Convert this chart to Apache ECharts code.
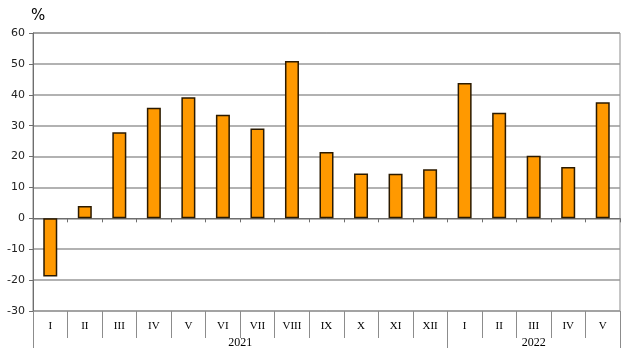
<!DOCTYPE html>
<html>
<head>
<meta charset="utf-8">
<script src="https://cdn.jsdelivr.net/npm/echarts@6/dist/echarts.min.js"></script>
<style>
  html, body { margin: 0; padding: 0; background: #fff; }
  #chart { width: 629px; height: 353px; }
</style>
</head>
<body>
<div id="chart"></div>
<script>
// 月份 (罗马数字) 与年份
const months = ['I', 'II', 'III', 'IV', 'V', 'VI', 'VII', 'VIII', 'IX', 'X', 'XI', 'XII', 'I', 'II', 'III', 'IV', 'V']
const values = [-18.8, 4.0, 27.9, 35.8, 39.2, 33.5, 29.1, 50.9, 21.5, 14.5, 14.4, 15.9, 43.8, 34.2, 20.3, 16.6, 37.6]
const years = ['2021', '2022']
const yearCounts = [12, 5]
const yTicks = [-30, -20, -10, 0, 10, 20, 30, 40, 50, 60]

// 年份分隔位置和标签中心
const yearEdges = [0]
const yearCenters = []
yearCounts.forEach((n, i) => {
  const start = yearEdges[i]
  yearEdges.push(start + n)
  yearCenters.push(start + n / 2)
})

const serif = '"Liberation Serif", "DejaVu Serif", serif'

const chart = echarts.init(document.getElementById('chart'))

chart.setOption({
  animation: false,
  title: {
    text: '%',
    left: 26,
    top: 4,
    textStyle: { fontSize: 15, fontWeight: 'normal', color: '#000', fontFamily: '"DejaVu Sans", sans-serif' }
  },
  grid: {
    left: 33, right: 9, top: 33, bottom: 42,
    show: true, borderColor: '#8c8c8c', borderWidth: 1
  },
  xAxis: [
    // 零轴 (带刻度)
    {
      type: 'category',
      data: months,
      axisLine: { onZero: true, lineStyle: { color: '#6e6e6e', width: 1 } },
      axisTick: { show: true, length: 4, lineStyle: { color: '#6e6e6e' } },
      axisLabel: { show: false },
      splitLine: { show: false }
    },
    // 底部月份标签
    {
      type: 'category',
      data: months,
      position: 'bottom',
      axisLine: { show: false, onZero: false },
      axisTick: { show: true, length: 27, lineStyle: { color: '#8c8c8c' } },
      axisLabel: { margin: 10, fontSize: 11, color: '#000', fontFamily: serif },
      splitLine: { show: false }
    },
    // 年份
    {
      type: 'value',
      min: 0,
      max: yearEdges[yearEdges.length - 1],
      position: 'bottom',
      axisLine: { show: false, onZero: false },
      axisTick: { show: true, length: 37, customValues: yearEdges, lineStyle: { color: '#8c8c8c' } },
      axisLabel: {
        margin: 26,
        fontSize: 12,
        color: '#000',
        fontFamily: serif,
        customValues: yearCenters,
        formatter: (v) => years[yearCenters.indexOf(v)] || ''
      },
      splitLine: { show: false }
    }
  ],
  yAxis: {
    type: 'value',
    min: yTicks[0],
    max: yTicks[yTicks.length - 1],
    interval: 10,
    axisLine: { show: true, lineStyle: { color: '#6e6e6e' } },
    axisTick: { show: true, length: 4, lineStyle: { color: '#6e6e6e' } },
    axisLabel: { margin: 8, fontSize: 11, color: '#222', fontFamily: '"DejaVu Sans", sans-serif' },
    splitLine: { show: true, lineStyle: { color: '#999999', width: 1.5 } }
  },
  series: [
    {
      type: 'bar',
      xAxisIndex: 0,
      data: values,
      barWidth: 14,
      itemStyle: { color: '#ff9900', borderColor: '#2b1a00', borderWidth: 1.5 }
    }
  ]
})
</script>
</body>
</html>
